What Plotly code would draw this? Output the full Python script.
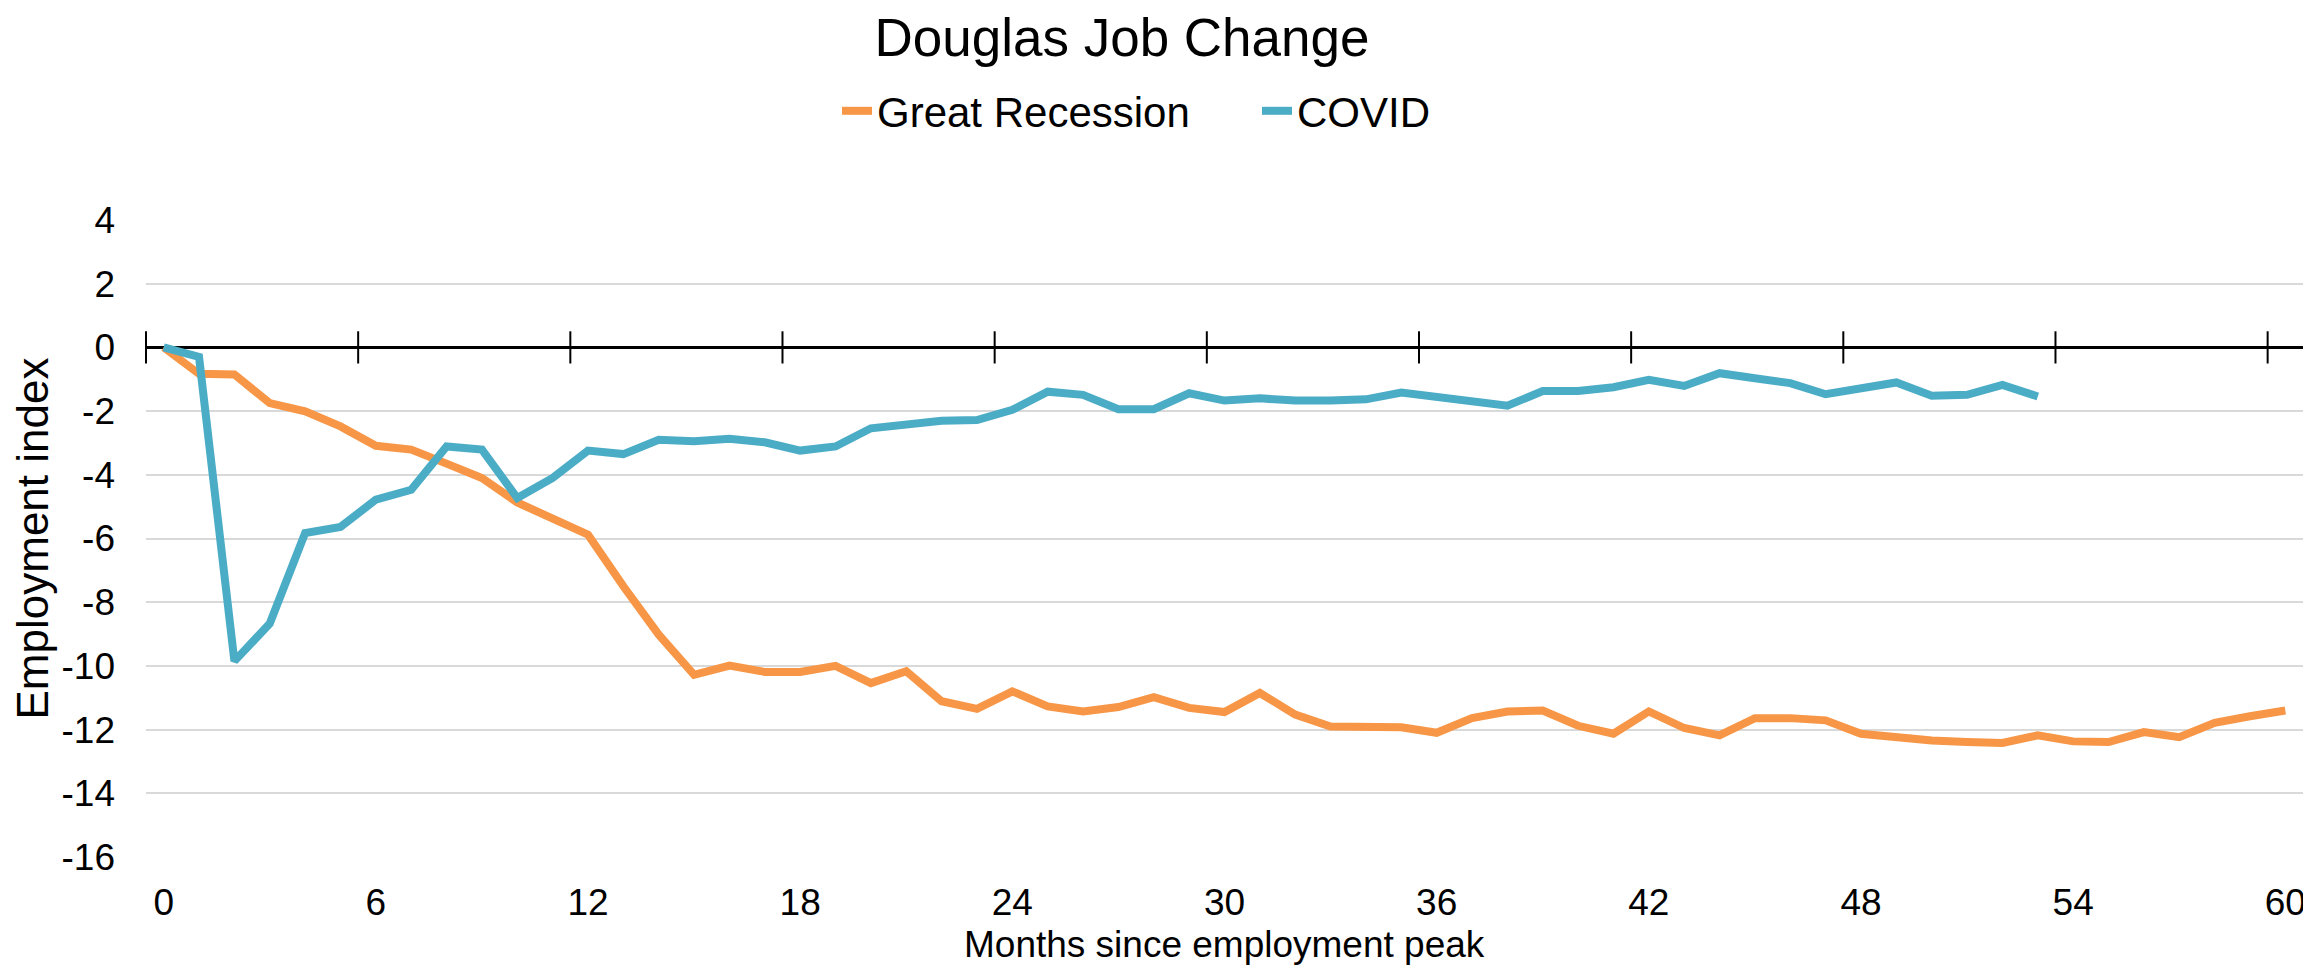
import plotly.graph_objects as go

# months since employment peak
months = list(range(61))

great_recession = [
    0, -0.83, -0.85, -1.75, -2.01, -2.48, -3.09, -3.21, -3.65, -4.10,
    -4.87, -5.36, -5.88, -7.50, -9.02, -10.28, -9.99, -10.19, -10.19, -10.0,
    -10.54, -10.17, -11.11, -11.35, -10.80, -11.27, -11.43, -11.29, -10.98, -11.32,
    -11.45, -10.85, -11.53, -11.90, -11.92, -11.93, -12.10, -11.64, -11.43, -11.40,
    -11.88, -12.13, -11.43, -11.95, -12.18, -11.64, -11.64, -11.71, -12.13, -12.24,
    -12.34, -12.39, -12.42, -12.18, -12.37, -12.39, -12.08, -12.24, -11.79, -11.58,
    -11.40,
]

covid = [
    0, -0.30, -9.85, -8.67, -5.83, -5.64, -4.78, -4.47, -3.11, -3.21,
    -4.73, -4.10, -3.24, -3.35, -2.90, -2.95, -2.87, -2.98, -3.24, -3.11,
    -2.54, -2.41, -2.30, -2.28, -1.96, -1.39, -1.49, -1.94, -1.94, -1.44,
    -1.67, -1.60, -1.67, -1.67, -1.63, -1.42, -1.56, -1.73, -1.83, -1.37,
    -1.37, -1.25, -1.02, -1.21, -0.81, -0.97, -1.12, -1.47, -1.28, -1.10,
    -1.52, -1.49, -1.18, -1.54,
]

x_ticks = list(range(0, 61, 6))
# tick marks sit between categories (Excel style)
x_tick_marks = [t - 0.5 for t in range(0, 61, 6)]
y_ticks = [4, 2, 0, -2, -4, -6, -8, -10, -12, -14, -16]
y_tick_text = [str(v) for v in y_ticks]

font = "Liberation Sans, Arial, sans-serif"

# page body has an 8px margin, so the figure is sized/offset to fill the window
W, H = 2303, 958

fig = go.Figure()
fig.add_trace(go.Scatter(
    x=x_tick_marks, y=[0] * len(x_tick_marks), mode="markers",
    marker=dict(symbol="line-ns", size=23, line=dict(color="black", width=2)),
    showlegend=False, hoverinfo="skip", cliponaxis=False,
))
fig.add_trace(go.Scatter(
    x=months, y=great_recession, mode="lines", name="Great Recession",
    line=dict(color="#F79646", width=8),
))
fig.add_trace(go.Scatter(
    x=months[:len(covid)], y=covid, mode="lines", name="COVID",
    line=dict(color="#4BACC6", width=8),
))

fig.update_layout(
    width=W, height=H,
    margin=dict(l=138, r=8, t=212, b=109),
    plot_bgcolor="white", paper_bgcolor="white",
    font=dict(family=font, size=37, color="black"),
    title=dict(text="Douglas Job Change", x=1114 / W, xref="container",
               xanchor="center", y=1 - 29 / H, yref="container",
               yanchor="middle", font=dict(size=53, color="black")),
    legend=dict(orientation="h", xref="container", x=1249 / W, xanchor="center",
                yref="container", y=1 - 103 / H, yanchor="middle",
                font=dict(size=42, color="black"), itemwidth=30,
                entrywidth=375, entrywidthmode="pixels"),
    xaxis=dict(range=[-0.5, 60.5], tickmode="array", tickvals=x_ticks,
               showgrid=False, zeroline=False, showline=False, ticks="",
               ticklabelstandoff=20, automargin=False),
    yaxis=dict(range=[-16, 4], tickmode="array", tickvals=y_ticks, ticktext=y_tick_text,
               showgrid=True, gridcolor="#D9D9D9", gridwidth=2,
               zeroline=True, zerolinecolor="black", zerolinewidth=2.5,
               ticks="", ticklabelstandoff=30, automargin=False,
               title=dict(text="Employment index", standoff=16)),
)

# x-axis title as an annotation so it can sit exactly below the labels
fig.add_annotation(text="Months since employment peak", xref="paper", x=0.5,
                   yref="paper", y=0, yanchor="middle", yshift=-87,
                   showarrow=False, font=dict(size=37, color="black"))

fig.write_html("out.html")
